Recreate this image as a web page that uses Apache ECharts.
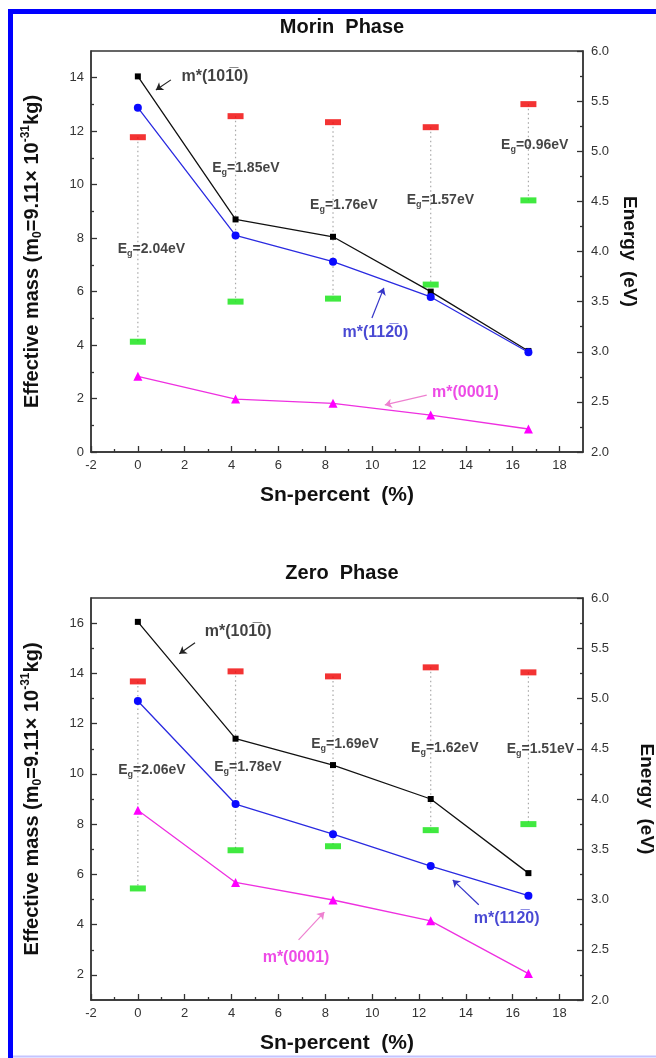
<!DOCTYPE html>
<html><head><meta charset="utf-8">
<script src="https://cdn.jsdelivr.net/npm/echarts@6/dist/echarts.min.js"></script>
<style>html,body{margin:0;padding:0;background:#fff}#c{width:656px;height:1058px}</style>
</head><body><div id="c"></div>
<script>
// ---------- data ----------
const snPercent = [0, 4.17, 8.33, 12.5, 16.67];

const morinM1010 = [14.05, 8.7, 8.05, 6.0, 3.78];
const morinM1120 = [12.88, 8.1, 7.12, 5.8, 3.73];
const morinM0001 = [2.83, 1.98, 1.82, 1.38, 0.86];
const morinCB = [5.14, 5.35, 5.29, 5.24, 5.47];
const morinVB = [3.10, 3.50, 3.53, 3.67, 4.51];
const morinGap = ['2.04', '1.85', '1.76', '1.57', '0.96'];

const zeroM1010 = [16.05, 11.4, 10.35, 9.0, 6.05];
const zeroM1120 = [12.9, 8.8, 7.6, 6.33, 5.15];
const zeroM0001 = [8.55, 5.68, 4.98, 4.15, 2.05];
const zeroCB = [5.17, 5.27, 5.22, 5.31, 5.26];
const zeroVB = [3.11, 3.49, 3.53, 3.69, 3.75];
const zeroGap = ['2.06', '1.78', '1.69', '1.62', '1.51'];

const xMajorTicks = [-2, 0, 2, 4, 6, 8, 10, 12, 14, 16, 18];
const xMinorTicks = [-1, 1, 3, 5, 7, 9, 11, 13, 15, 17];
const morinMassTicks = [0, 2, 4, 6, 8, 10, 12, 14];
const morinMassMinor = [1, 3, 5, 7, 9, 11, 13];
const zeroMassTicks = [2, 4, 6, 8, 10, 12, 14, 16];
const zeroMassMinor = [3, 5, 7, 9, 11, 13, 15];

const seriesNames = ['m*(101\u03050)', 'm*(112\u03050)', 'm*(0001)'];

// ---------- annotation placement (data units) ----------
const morinGapLabelAt = [[0.58, 4.02], [4.61, 4.83], [8.79, 4.46], [12.91, 4.51], [16.94, 5.06]];
const zeroGapLabelAt = [[0.60, 4.29], [4.70, 4.32], [8.84, 4.55], [13.10, 4.51], [17.18, 4.50]];
const morinNameAt = [[3.29, 14.04], [10.14, 4.45], [13.98, 2.24]];
const zeroNameAt = [[4.28, 15.67], [15.74, 4.23], [6.75, 2.68]];
const morinArrows = [[[1.41, 13.92], [0.77, 13.54]], [[9.99, 5.01], [10.50, 6.14]], [[12.33, 2.13], [10.54, 1.76]]];
const zeroArrows = [[[2.44, 15.22], [1.77, 14.78]], [[14.55, 4.79], [13.44, 5.78]], [[6.86, 3.39], [7.96, 4.50]]];

// ---------- chart ----------
const FONT = '"Liberation Sans", Arial, sans-serif';
const AX = '#333';
const lineColors = ['#111111', '#2a2ae0', '#ee30e0'];
const markerColors = ['#000000', '#0a0aff', '#ff00ff'];
const nameColors = ['#111111', '#1c1cc8', '#e81ee0'];
const arrowColors = ['#222222', '#3535c8', '#ee80d0'];
const symbols = ['rect', 'circle', 'triangle'];
const symbolSizes = [6, 8, 9];

const panels = [
  {title: 'Morin  Phase', titleTop: 12, grid: {left: 91, top: 51, width: 492, height: 401},
   yMin: 0, yMax: 15, yTicks: morinMassTicks, yMinor: morinMassMinor,
   masses: [morinM1010, morinM1120, morinM0001], cb: morinCB, vb: morinVB, gap: morinGap,
   gapAt: morinGapLabelAt, nameAt: morinNameAt, arrows: morinArrows, eGap: 32},
  {title: 'Zero  Phase', titleTop: 558, grid: {left: 91, top: 598, width: 492, height: 402},
   yMin: 1, yMax: 17, yTicks: zeroMassTicks, yMinor: zeroMassMinor,
   masses: [zeroM1010, zeroM1120, zeroM0001], cb: zeroCB, vb: zeroVB, gap: zeroGap,
   gapAt: zeroGapLabelAt, nameAt: zeroNameAt, arrows: zeroArrows, eGap: 54}
];

const tickStyle = {color: AX, width: 1.3};

const option = {
  animation: false,
  backgroundColor: '#fff',
  title: [], grid: [], xAxis: [], yAxis: [], series: [],
  graphic: [
    {type: 'polyline', shape: {points: [[10.5, 1058], [10.5, 11.5], [660, 11.5]]},
     style: {stroke: '#0000ff', lineWidth: 5, fill: null}, z: 100},
    {type: 'line', shape: {x1: 13, y1: 1056.5, x2: 660, y2: 1056.5},
     style: {stroke: '#c4c4ff', lineWidth: 2}, z: 100}
  ]
};

panels.forEach((p, gi) => {
  option.title.push({text: p.title, left: 337, top: p.titleTop, textAlign: 'center',
    textStyle: {fontFamily: FONT, fontWeight: 'bold', fontSize: 20, color: '#111'}});
  option.grid.push(Object.assign({show: true, borderColor: AX, borderWidth: 1.3,
    backgroundColor: 'transparent', containLabel: false, outerBoundsMode: 'none'}, p.grid));
  const xi = gi * 2, yi = gi * 3;
  option.xAxis.push({
    gridIndex: gi, type: 'value', position: 'bottom', min: -2, max: 19,
    axisLine: {show: true, onZero: false, lineStyle: {color: AX, width: 1.5}},
    axisTick: {show: true, inside: true, length: 6, customValues: xMajorTicks, lineStyle: tickStyle},
    axisLabel: {customValues: xMajorTicks, color: AX, fontSize: 13, fontFamily: FONT, margin: 7},
    splitLine: {show: false},
    name: 'Sn-percent  (%)', nameLocation: 'middle', nameGap: 33,
    nameTextStyle: {fontFamily: FONT, fontWeight: 'bold', fontSize: 21, color: '#111'}
  });
  option.xAxis.push({
    gridIndex: gi, type: 'value', position: 'bottom', min: -2, max: 19,
    axisLine: {show: false, onZero: false},
    axisTick: {show: true, inside: true, length: 3, customValues: xMinorTicks, lineStyle: tickStyle},
    axisLabel: {show: false}, splitLine: {show: false}
  });
  option.yAxis.push({
    gridIndex: gi, type: 'value', position: 'left', min: p.yMin, max: p.yMax,
    axisLine: {show: true, onZero: false, lineStyle: {color: AX, width: 1.5}},
    axisTick: {show: true, inside: true, length: 6, customValues: p.yTicks, lineStyle: tickStyle},
    axisLabel: {customValues: p.yTicks, color: AX, fontSize: 13, fontFamily: FONT, margin: 7},
    splitLine: {show: false},
    name: '{t|Effective mass (m}{s|0}{t|=9.11× 10}{p|-31}{t|kg)}',
    nameLocation: 'middle', nameRotate: 90, nameGap: 47,
    nameTextStyle: {
      fontFamily: FONT, fontWeight: 'bold', fontSize: 20, color: '#111',
      rich: {
        t: {fontFamily: FONT, fontWeight: 'bold', fontSize: 20, color: '#111', lineHeight: 24},
        s: {fontFamily: FONT, fontWeight: 'bold', fontSize: 12, color: '#111', lineHeight: 11, verticalAlign: 'bottom'},
        p: {fontFamily: FONT, fontWeight: 'bold', fontSize: 12, color: '#111', lineHeight: 11, verticalAlign: 'top'}
      }
    }
  });
  option.yAxis.push({
    gridIndex: gi, type: 'value', position: 'left', min: p.yMin, max: p.yMax,
    axisLine: {show: false, onZero: false},
    axisTick: {show: true, inside: true, length: 3, customValues: p.yMinor, lineStyle: tickStyle},
    axisLabel: {show: false}, splitLine: {show: false}
  });
  option.yAxis.push({
    gridIndex: gi, type: 'value', position: 'right', min: 2, max: 6, interval: 0.5,
    axisLine: {show: true, onZero: false, lineStyle: {color: AX, width: 1.5}},
    axisTick: {show: true, inside: true, length: 6, lineStyle: tickStyle},
    minorTick: {show: true, splitNumber: 2, length: 3, lineStyle: tickStyle},
    axisLabel: {color: AX, fontSize: 13, fontFamily: FONT, margin: 8, formatter: v => v.toFixed(1)},
    splitLine: {show: false},
    name: 'Energy  (eV)', nameLocation: 'middle', nameRotate: -90, nameGap: p.eGap,
    nameTextStyle: {fontFamily: FONT, fontWeight: 'bold', fontSize: 19, color: '#111'}
  });

  // dotted connectors between band edges
  option.series.push({
    type: 'custom', xAxisIndex: xi, yAxisIndex: yi + 2, silent: true, z: 1,
    data: snPercent.map((x, i) => [x, p.cb[i], p.vb[i]]),
    encode: {x: 0, y: [1, 2]},
    renderItem: (params, api) => {
      const a = api.coord([api.value(0), api.value(1)]);
      const b = api.coord([api.value(0), api.value(2)]);
      return {type: 'line', shape: {x1: a[0], y1: a[1], x2: b[0], y2: b[1]},
        style: {stroke: '#a8a8a8', lineWidth: 1.2, lineDash: [1.5, 3]}};
    }
  });
  option.series.push({
    type: 'scatter', xAxisIndex: xi, yAxisIndex: yi + 2, silent: true, z: 2,
    symbol: 'rect', symbolSize: [16, 6], itemStyle: {color: '#f00000'},
    data: snPercent.map((x, i) => [x, p.cb[i]])
  });
  option.series.push({
    type: 'scatter', xAxisIndex: xi, yAxisIndex: yi + 2, silent: true, z: 2,
    symbol: 'rect', symbolSize: [16, 6], itemStyle: {color: '#10e410'},
    data: snPercent.map((x, i) => [x, p.vb[i]])
  });
  // mass lines
  p.masses.forEach((m, k) => {
    option.series.push({
      type: 'line', xAxisIndex: xi, yAxisIndex: yi, z: 3, silent: true,
      symbol: symbols[k], symbolSize: symbolSizes[k], showSymbol: true,
      lineStyle: {color: lineColors[k], width: 1.3},
      itemStyle: {color: markerColors[k]},
      data: snPercent.map((x, i) => [x, m[i]]),
      markLine: {
        silent: true, symbol: ['none', 'arrow'], symbolSize: 7, animation: false,
        lineStyle: {color: arrowColors[k], width: 1.2, type: 'solid'},
        label: {show: false}, emphasis: {disabled: true},
        data: [[{coord: p.arrows[k][0]}, {coord: p.arrows[k][1]}]]
      }
    });
    option.series.push({
      type: 'scatter', xAxisIndex: xi, yAxisIndex: yi, z: 5, silent: true,
      symbolSize: 1, itemStyle: {color: 'rgba(0,0,0,0)'},
      data: [p.nameAt[k]],
      label: {show: true, position: 'inside', formatter: seriesNames[k],
        fontFamily: FONT, fontWeight: 'bold', fontSize: 16, color: nameColors[k]}
    });
  });
  // band-gap labels
  option.series.push({
    type: 'scatter', xAxisIndex: xi, yAxisIndex: yi + 2, z: 5, silent: true,
    symbolSize: 1, itemStyle: {color: 'rgba(0,0,0,0)'},
    data: p.gapAt.map(c => c),
    label: {show: true, position: 'inside',
      formatter: prm => '{e|E}{s|g}{e|=' + p.gap[prm.dataIndex] + 'eV}',
      rich: {
        e: {fontFamily: FONT, fontWeight: 'bold', fontSize: 14, color: '#151515', lineHeight: 18},
        s: {fontFamily: FONT, fontWeight: 'bold', fontSize: 9, color: '#151515', lineHeight: 9, verticalAlign: 'bottom'}
      }
    }
  });
});

const chart = echarts.init(document.getElementById('c'), null, {renderer: 'canvas', width: 656, height: 1058});
chart.setOption(option);
</script>
</body></html>
